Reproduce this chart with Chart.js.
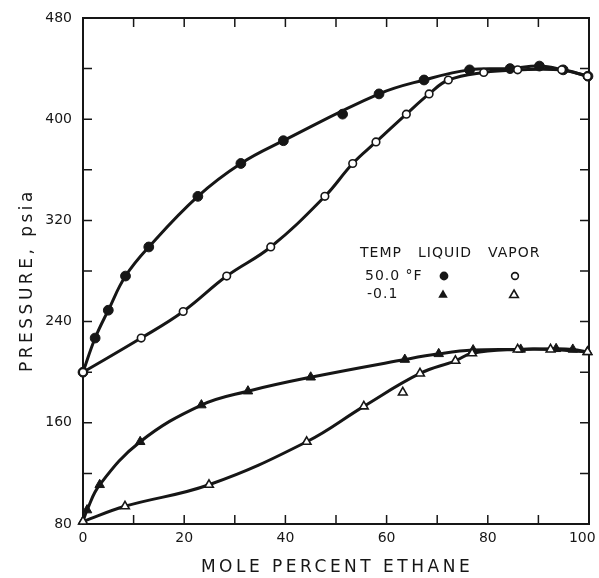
<!DOCTYPE html>
<html>
<head>
<meta charset="utf-8">
<script src="https://cdn.jsdelivr.net/npm/chart.js@4/dist/chart.umd.min.js"></script>
<style>
  html, body { margin: 0; padding: 0; background: #fff; }
</style>
</head>
<body>
<canvas id="chart" width="599" height="578"></canvas>
<script>
// values (mole percent ethane, pressure psia)
const liquid50X = [0, 2.4, 5.0, 8.4, 13.0, 22.7, 31.2, 39.6, 58.5, 67.4, 76.4, 84.4, 90.2, 94.9, 99.8];
const liquid50Y = [200, 227, 249, 276, 299, 339, 365, 383, 420, 431, 439, 440, 442, 439, 434];
// points that sit off the drawn curve
const liquid50OffX = [51.3];
const liquid50OffY = [404];

const vapor50X = [0, 11.5, 19.8, 28.4, 37.1, 47.8, 53.3, 57.9, 63.9, 68.4, 72.2, 79.2, 85.9, 94.6, 99.7];
const vapor50Y = [200, 227, 248, 276, 299, 339, 365, 382, 404, 420, 431, 437, 439, 439, 434];

const liquidColdX = [0, 0.8, 3.3, 11.3, 23.4, 32.6, 45.0, 63.6, 70.3, 77.1, 86.5, 93.5, 96.8, 99.7];
const liquidColdY = [82, 91, 111, 145, 174, 185, 196, 210, 214.5, 217.5, 218, 218.5, 218, 216];

const vaporColdX = [0, 8.3, 24.9, 44.2, 55.5, 66.6, 73.6, 76.9, 85.9, 92.4, 99.7];
const vaporColdY = [82, 94, 111, 145, 173, 199, 209, 215, 218, 218, 216];
const vaporColdOffX = [63.2];
const vaporColdOffY = [184];

const xTicks = [0, 20, 40, 60, 80, 100];
const yTicks = [80, 160, 240, 320, 400, 480];

const ink = '#161616';
const font = 'DejaVu Sans';

function pts(xs, ys) {
    return xs.map((x, i) => ({ x: x, y: ys[i] }));
}

function series(label, xs, ys, style, filled, radius, line) {
    return {
        label: label,
        data: pts(xs, ys),
        showLine: line,
        borderColor: ink,
        borderWidth: 3,
        tension: 0.4,
        pointStyle: style,
        pointRadius: radius,
        pointBorderWidth: filled ? 1 : 1.6,
        pointBackgroundColor: filled ? ink : '#fff',
        pointBorderColor: ink,
        clip: false
    };
}

// box + inward ticks on all four sides
const framePlugin = {
    id: 'frame',
    beforeDatasetsDraw(chart) {
        const { ctx, chartArea: a, scales: { x, y } } = chart;
        ctx.save();
        ctx.strokeStyle = ink;
        ctx.lineWidth = 2;
        ctx.strokeRect(a.left, a.top, a.right - a.left, a.bottom - a.top);
        ctx.lineWidth = 1.5;
        ctx.beginPath();
        x.ticks.forEach(t => {
            const px = x.getPixelForValue(t.value);
            ctx.moveTo(px, a.bottom); ctx.lineTo(px, a.bottom - 9);
            ctx.moveTo(px, a.top); ctx.lineTo(px, a.top + 9);
        });
        y.ticks.forEach(t => {
            const py = y.getPixelForValue(t.value);
            ctx.moveTo(a.left, py); ctx.lineTo(a.left + 9, py);
            ctx.moveTo(a.right, py); ctx.lineTo(a.right - 9, py);
        });
        ctx.stroke();
        ctx.restore();
    },
    afterDraw(chart) {
        const { ctx, chartArea: a } = chart;
        ctx.save();
        ctx.fillStyle = ink;
        ctx.strokeStyle = ink;

        // axis titles (spaced out like the original lettering)
        ctx.font = '17px "' + font + '"';
        ctx.letterSpacing = '3.5px';
        ctx.textAlign = 'center';
        ctx.textBaseline = 'middle';
        ctx.fillText('MOLE PERCENT ETHANE', 337, 568);
        ctx.translate(28, 280);
        ctx.rotate(-Math.PI / 2);
        ctx.fillText('PRESSURE, psia', 0, 0);
        ctx.setTransform(1, 0, 0, 1, 0, 0);

        // key table
        const lx = a.left, ty = a.top;
        ctx.font = '14px "' + font + '"';
        ctx.letterSpacing = '1px';
        ctx.textAlign = 'left';
        ctx.fillText('TEMP', lx + 277, ty + 235);
        ctx.fillText('LIQUID', lx + 335, ty + 235);
        ctx.fillText('VAPOR', lx + 405, ty + 235);
        ctx.fillText('50.0 °F', lx + 282, ty + 258);
        ctx.fillText('-0.1', lx + 284, ty + 276);

        ctx.lineWidth = 1.6;
        ctx.beginPath();
        ctx.arc(lx + 361, ty + 258, 4.4, 0, Math.PI * 2);
        ctx.fill();
        ctx.beginPath();
        ctx.arc(lx + 432, ty + 258, 3.4, 0, Math.PI * 2);
        ctx.stroke();
        const tri = (cx, cy, r) => {
            ctx.beginPath();
            ctx.moveTo(cx, cy - r);
            ctx.lineTo(cx + r * 0.866, cy + r / 2);
            ctx.lineTo(cx - r * 0.866, cy + r / 2);
            ctx.closePath();
        };
        tri(lx + 360, ty + 277, 5.5);
        ctx.fill();
        tri(lx + 431, ty + 277, 5);
        ctx.stroke();
        ctx.restore();
    }
};

const config = {
    type: 'line',
    data: {
        datasets: [
            series('Vapor 50.0 °F', vapor50X, vapor50Y, 'circle', false, 3.8, true),
            series('Vapor -0.1 °F', vaporColdX, vaporColdY, 'triangle', false, 5, true),
            series('Vapor -0.1 °F (off curve)', vaporColdOffX, vaporColdOffY, 'triangle', false, 5, false),
            series('Liquid 50.0 °F', liquid50X, liquid50Y, 'circle', true, 4.9, true),
            series('Liquid 50.0 °F (off curve)', liquid50OffX, liquid50OffY, 'circle', true, 4.9, false),
            series('Liquid -0.1 °F', liquidColdX, liquidColdY, 'triangle', true, 5.5, true)
        ]
    },
    options: {
        responsive: false,
        animation: false,
        layout: { padding: { top: 18, right: 10, left: 0, bottom: 0 } },
        plugins: {
            legend: { display: false },
            tooltip: { enabled: false }
        },
        scales: {
            x: {
                type: 'linear',
                min: 0,
                max: 100,
                grid: { display: false, drawTicks: false },
                border: { display: false },
                ticks: {
                    stepSize: 10,
                    autoSkip: false,
                    maxRotation: 0,
                    padding: 6,
                    color: ink,
                    font: { family: font, size: 14 },
                    // last label nudged left so it stays inside the page, as in the original
                    callback: v => v === 100 ? '100   ' : (xTicks.includes(v) ? String(v) : '')
                },
                afterFit(s) {
                    s.height = 54;
                    s.paddingLeft = 0;
                    s.paddingRight = 0;
                }
            },
            y: {
                min: 80,
                max: 480,
                grid: { display: false, drawTicks: false },
                border: { display: false },
                ticks: {
                    stepSize: 40,
                    autoSkip: false,
                    padding: 11,
                    color: ink,
                    font: { family: font, size: 14 },
                    callback: v => yTicks.includes(v) ? String(v) : ''
                },
                afterFit(s) {
                    s.width = 83;
                    s.paddingTop = 0;
                    s.paddingBottom = 0;
                }
            }
        }
    },
    plugins: [framePlugin]
};

new Chart(document.getElementById('chart'), config);
</script>
</body>
</html>
